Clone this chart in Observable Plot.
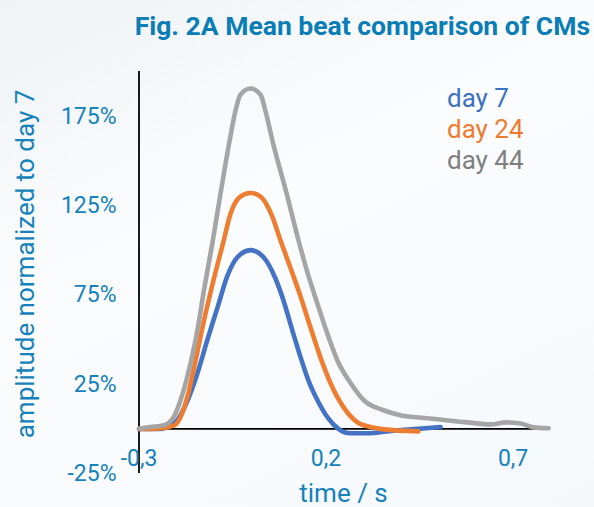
<!DOCTYPE html>
<html><head><meta charset="utf-8">
<script src="https://cdn.jsdelivr.net/npm/d3@7"></script>
<script src="https://cdn.jsdelivr.net/npm/@observablehq/plot@0.6"></script>
<style>
html,body{margin:0;padding:0;}
body{width:594px;height:507px;overflow:hidden;background:linear-gradient(155deg,#eff3f6 0%,#fbfcfd 40%,#f5f8fb 100%);font-family:Roboto,sans-serif;}
</style></head><body><div id="chart"></div>
<script>
const titleText = "Fig. 2A Mean beat comparison of CMs";
const yLabel = "amplitude normalized to day 7";
const xLabel = "time / s";
const seriesNames = ["day 7", "day 24", "day 44"];
const lineColors = ["#4472c4", "#ed7d31", "#a5a5a5"];
const legendColors = ["#3b72c0", "#ef7b2f", "#7f7f7f"];
const xTicks = [-0.3, 0.2, 0.7];
const yTicks = [-0.25, 0.25, 0.75, 1.25, 1.75];

const day7Time = [-0.300,-0.269,-0.243,-0.224,-0.197,-0.170,-0.144,-0.117,-0.090,-0.063,-0.037,-0.002,0.033,0.065,0.086,0.110,0.132,0.153,0.177,0.204,0.233,0.265,0.311,0.380,0.445,0.506];
const day7Amp  = [0.00,0.00,0.00,0.01,0.05,0.16,0.31,0.50,0.68,0.86,0.96,1.00,0.96,0.84,0.72,0.55,0.40,0.27,0.16,0.064,0.00,-0.025,-0.025,-0.01,0.00,0.01];

const day24Time = [-0.300,-0.269,-0.234,-0.205,-0.186,-0.168,-0.148,-0.128,-0.101,-0.074,-0.056,-0.029,-0.002,0.025,0.054,0.079,0.105,0.132,0.158,0.185,0.212,0.247,0.284,0.319,0.354,0.447];
const day24Amp  = [0.00,0.00,0.005,0.02,0.08,0.20,0.39,0.59,0.83,1.05,1.20,1.30,1.32,1.30,1.20,1.05,0.90,0.74,0.57,0.40,0.255,0.12,0.036,0.01,-0.003,-0.014];

const day44Time = [-0.300,-0.269,-0.234,-0.208,-0.183,-0.163,-0.144,-0.126,-0.103,-0.081,-0.058,-0.042,-0.029,-0.002,0.025,0.038,0.057,0.093,0.127,0.151,0.177,0.204,0.231,0.266,0.301,0.354,0.399,0.471,0.578,0.640,0.680,0.720,0.755,0.795];
const day44Amp  = [0.00,0.01,0.02,0.064,0.20,0.36,0.55,0.78,1.05,1.33,1.61,1.78,1.87,1.905,1.87,1.78,1.61,1.33,1.05,0.87,0.70,0.53,0.38,0.255,0.16,0.104,0.076,0.059,0.036,0.025,0.036,0.030,0.008,0.003];

const seriesTimes = [day7Time, day24Time, day44Time];
const seriesAmps = [day7Amp, day24Amp, day44Amp];
const rows = [];
seriesNames.forEach((s, i) => seriesTimes[i].forEach((t, j) => rows.push({series: s, t, v: seriesAmps[i][j]})));

const tickColor = "#1582bb";
const fmtX = d => String(d).replace(".", ",");
const fmtY = d => Math.round(d * 100) + "%";

const plot = Plot.plot({
  width: 594, height: 507,
  marginLeft: 138.5, marginRight: 44, marginTop: 71, marginBottom: 34,
  x: {domain: [-0.3, 0.8], axis: null},
  y: {domain: [-0.25, 2.0], axis: null},
  color: {domain: seriesNames, range: lineColors},
  style: {background: "transparent", fontFamily: "Roboto, sans-serif", overflow: "visible"},
  marks: [
    Plot.ruleY([0], {x1: -0.3, x2: 0.8, stroke: "#000", strokeWidth: 1.8}),
    Plot.ruleX([-0.3], {y1: -0.25, y2: 2.0, stroke: "#000", strokeWidth: 1.8}),
    Plot.line(rows, {x: "t", y: "v", z: "series", stroke: "series", strokeWidth: 4.6, curve: "monotone-x", strokeLinecap: "round", strokeLinejoin: "round"}),
    Plot.text(xTicks, {x: d => d, y: 0, dy: 29.5, text: fmtX, fontSize: 23, fill: tickColor, lineAnchor: "middle"}),
    Plot.text(yTicks, {x: -0.3, y: d => d, dx: -22.5, text: fmtY, fontSize: 23, fill: tickColor, textAnchor: "end", lineAnchor: "middle"})
  ]
});
document.getElementById("chart").appendChild(plot);
const svg = d3.select(plot);
svg.append("text").attr("x", 590).attr("y", 35).attr("text-anchor", "end")
  .attr("font-size", 26.5).attr("font-weight", "bold").attr("fill", "#0b7db6").text(titleText);
svg.append("text").attr("transform", "translate(34,264) rotate(-90)").attr("text-anchor", "middle")
  .attr("font-size", 26).attr("fill", tickColor).text(yLabel);
svg.append("text").attr("x", 343.5).attr("y", 502).attr("text-anchor", "middle")
  .attr("font-size", 26).attr("fill", tickColor).text(xLabel);
seriesNames.forEach((s, i) => {
  svg.append("text").attr("x", 447).attr("y", 107 + i * 31.2).attr("text-anchor", "start")
    .attr("font-size", 26).attr("fill", legendColors[i]).text(s);
});
</script>
</body></html>
